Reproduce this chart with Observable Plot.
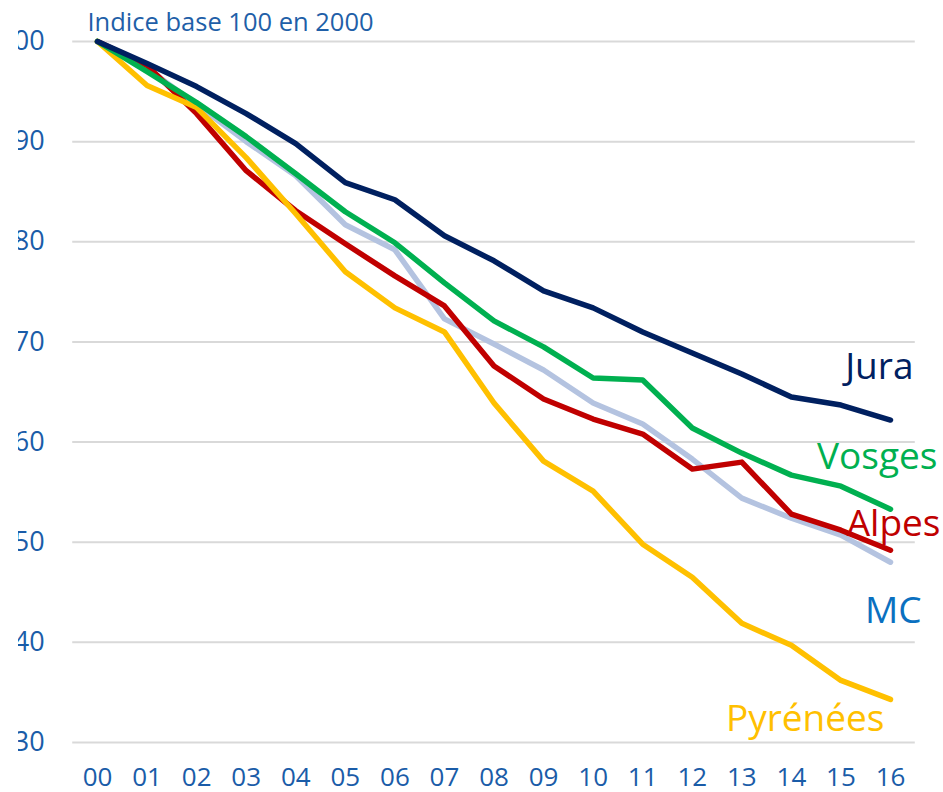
<!DOCTYPE html>
<html>
<head>
<meta charset="utf-8">
<script src="https://cdn.jsdelivr.net/npm/d3@7"></script>
<script src="https://cdn.jsdelivr.net/npm/@observablehq/plot@0.6"></script>
<style>
  html, body { margin: 0; padding: 0; background: #fff; }
  #chart { width: 943px; height: 792px; overflow: hidden; }
  #chart svg { clip-path: inset(0 0 0 18px); }
</style>
</head>
<body>
<div id="chart"></div>
<script>
const years = ["00","01","02","03","04","05","06","07","08","09","10","11","12","13","14","15","16"];
const jura     = [100, 97.8, 95.5, 92.8, 89.8, 85.9, 84.2, 80.6, 78.1, 75.1, 73.4, 71.0, 68.9, 66.8, 64.5, 63.7, 62.2];
const vosges   = [100, 97.0, 93.9, 90.5, 86.8, 83.0, 79.9, 75.9, 72.1, 69.5, 66.4, 66.2, 61.4, 58.9, 56.7, 55.6, 53.3];
const alpes    = [100, 97.6, 92.8, 87.1, 83.1, 79.8, 76.6, 73.6, 67.6, 64.3, 62.3, 60.8, 57.3, 58.0, 52.8, 51.2, 49.2];
const mc       = [100, 97.3, 93.7, 90.0, 86.6, 81.7, 79.2, 72.3, 69.8, 67.2, 63.9, 61.8, 58.3, 54.4, 52.4, 50.7, 48.0];
const pyrenees = [100, 95.6, 93.4, 88.4, 82.8, 77.0, 73.4, 71.0, 63.9, 58.1, 55.1, 49.8, 46.5, 41.9, 39.7, 36.2, 34.3];
const yTicks = [30, 40, 50, 60, 70, 80, 90, 100];
const title = "Indice base 100 en 2000";

const series = [
  {name: "MC",       values: mc,       color: "#b4c3e0", label: "MC",       labelColor: "#0a70c0", dx: 31, dy: 49},
  {name: "Alpes",    values: alpes,    color: "#c00000", label: "Alpes",    labelColor: "#c00000", dx: 50, dy: -26},
  {name: "Pyrénées", values: pyrenees, color: "#ffc000", label: "Pyrénées", labelColor: "#ffc000", dx: -6, dy: 20},
  {name: "Vosges",   values: vosges,   color: "#00b050", label: "Vosges",   labelColor: "#00b050", dx: 47, dy: -52},
  {name: "Jura",     values: jura,     color: "#002060", label: "Jura",     labelColor: "#002060", dx: 23, dy: -53}
];

const rows = series.flatMap(s => s.values.map((v, i) => ({series: s.name, i, year: years[i], v})));
const lastRows = series.map(s => ({...s, i: years.length - 1, v: s.values[s.values.length - 1]}));

const font = "'Open Sans', sans-serif";
const tickColor = "#1a5ca8";

const marks = [
  Plot.ruleY(yTicks, {y: d => d, x1: -0.5, x2: years.length - 0.5, stroke: "#d9d9d9", strokeWidth: 2}),
  Plot.text(yTicks, {x: -0.5, y: d => d, text: d => String(d), textAnchor: "end", dx: -28, lineAnchor: "middle", fill: tickColor, fontSize: 27, fontFamily: font}),
  Plot.text(years, {x: (d, i) => i, y: 30, text: d => d, textAnchor: "middle", lineAnchor: "middle", dy: 35, fill: tickColor, fontSize: 26, fontFamily: font}),
  Plot.text([title], {x: 0, y: 100, text: d => d, textAnchor: "start", lineAnchor: "middle", dx: -10, dy: -19, fill: "#1f5fa8", fontSize: 25.5, fontFamily: font})
];
for (const s of series) {
  marks.push(Plot.line(rows.filter(r => r.series === s.name), {x: "i", y: "v", stroke: s.color, strokeWidth: 5.5, strokeLinejoin: "round", strokeLinecap: "round"}));
}
for (const s of lastRows) {
  marks.push(Plot.text([s], {x: "i", y: "v", text: "label", fill: s.labelColor, textAnchor: "end", lineAnchor: "middle", dx: s.dx, dy: s.dy, fontSize: 37, fontFamily: font}));
}

const chart = Plot.plot({
  width: 943,
  height: 792,
  margin: 0,
  x: {type: "linear", domain: [0, years.length - 1], range: [97, 890], axis: null},
  y: {type: "linear", domain: [30, 100], range: [742, 41], axis: null},
  style: {background: "white", fontFamily: font},
  marks
});
document.getElementById("chart").appendChild(chart);
</script>
</body>
</html>
